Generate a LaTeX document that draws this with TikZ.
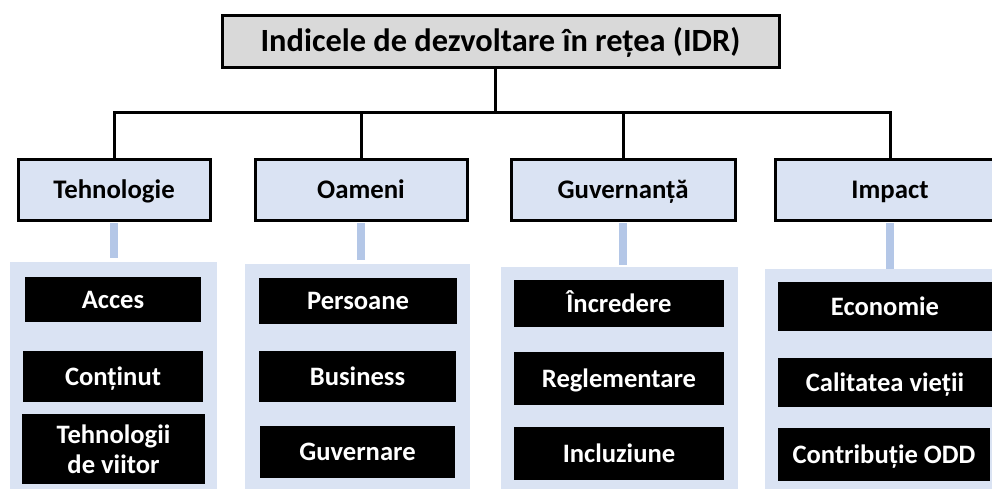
\documentclass[tikz,border=0pt]{standalone}
\usepackage{fontspec}
\setmainfont{Carlito}
\definecolor{topgray}{HTML}{D9D9D9}
\definecolor{catblue}{HTML}{DAE3F3}
\definecolor{panelblue}{HTML}{DAE3F3}
\definecolor{linkblue}{HTML}{B4C7E7}
\tikzset{
  titlebox/.style={draw=black, line width=3pt, fill=topgray, rectangle, inner sep=0pt,
    text height=20.9pt, text depth=0pt,
    font=\fontsize{32.4}{38}\selectfont\bfseries},
  catbox/.style={draw=black, line width=3pt, fill=catblue, rectangle, inner sep=0pt,
    text height=17.3pt, text depth=0pt,
    minimum height=61pt, font=\fontsize{26.8}{32}\selectfont\bfseries},
  panel/.style={fill=panelblue, draw=none, rectangle, inner sep=0pt},
  itembox/.style={fill=black, draw=none, rectangle, inner sep=0pt, text=white, align=center,
    font=\fontsize{26.6}{31}\selectfont\bfseries},
  oneline/.style={itembox, text height=17.1pt, text depth=0pt},
  tree/.style={draw=black, line width=3pt},
  bluelink/.style={draw=linkblue, line width=8pt}
}
\begin{document}
\begin{tikzpicture}[x=1pt, y=-1pt]
\useasboundingbox (0,0) rectangle (992,488);
\clip (0,0) rectangle (992,488);
\fill[white] (0,0) rectangle (992,488);

% title
\node[titlebox, minimum width=557pt, minimum height=52pt] (top) at (500.5,41) {Indicele de dezvoltare în rețea (IDR)};

% categories
\node[catbox, minimum width=192pt] (c1) at (114,189.5) {Tehnologie};
\node[catbox, minimum width=212pt] (c2) at (361,189.5) {Oameni};
\node[catbox, minimum width=224pt] (c3) at (623,189.5) {Guvernanță};
\node[catbox, minimum width=230pt] (c4) at (890,189.5) {Impact};

% tree connectors
\coordinate (hub) at (495,112);
\draw[tree] (hub |- top.south) -- (hub);
\draw[tree, line cap=rect] (c1.north |- hub) -- (c4.north |- hub);
\draw[tree] (c1.north |- hub) -- (c1.north);
\draw[tree] (c2.north |- hub) -- (c2.north);
\draw[tree] (c3.north |- hub) -- (c3.north);
\draw[tree] (c4.north |- hub) -- (c4.north);

% panels
\node[panel, minimum width=207pt, minimum height=228pt] (p1) at (113.5,376) {};
\node[panel, minimum width=225pt, minimum height=226pt] (p2) at (357.5,377) {};
\node[panel, minimum width=237pt, minimum height=223pt] (p3) at (619.5,378.5) {};
\node[panel, minimum width=245pt, minimum height=221pt] (p4) at (887.5,379.5) {};

% blue links
\draw[bluelink, shorten <=1.5pt, shorten >=4pt] (c1.south) -- (c1.south |- p1.north);
\draw[bluelink, shorten <=1.5pt, shorten >=4pt] (c2.south) -- (c2.south |- p2.north);
\draw[bluelink, shorten <=1.5pt, shorten >=2pt] (c3.south) -- (c3.south |- p3.north);
\draw[bluelink, shorten <=1.5pt] (c4.south) -- (c4.south |- p4.north);

% items
\node[oneline, minimum width=176pt, minimum height=45pt] (a1) at (113,299.5) {Acces};
\node[oneline, minimum width=180pt, minimum height=51pt] (a2) at (113,376.5) {Conținut};
\node[itembox, minimum width=183pt, minimum height=70pt] (a3) at (113.5,449) {Tehnologii\\[-1pt]de viitor};

\node[oneline, minimum width=198pt, minimum height=46pt] (b1) at (358,301) {Persoane};
\node[oneline, minimum width=197pt, minimum height=51pt] (b2) at (357.5,376.5) {Business};
\node[oneline, minimum width=195pt, minimum height=52pt] (b3) at (357.5,452) {Guvernare};

\node[oneline, minimum width=210pt, minimum height=47pt] (g1) at (619,303.5) {Încredere};
\node[oneline, minimum width=210pt, minimum height=53pt] (g2) at (619,378.5) {Reglementare};
\node[oneline, minimum width=210pt, minimum height=53pt] (g3) at (619,453.5) {Incluziune};

\node[oneline, minimum width=214pt, minimum height=49pt] (i1) at (885,306.5) {Economie};
\node[oneline, minimum width=214pt, minimum height=49pt] (i2) at (885,382.5) {Calitatea vieții};
\node[oneline, minimum width=212pt, minimum height=53pt] (i3) at (884,454.5) {Contribuție ODD};
\end{tikzpicture}
\end{document}
